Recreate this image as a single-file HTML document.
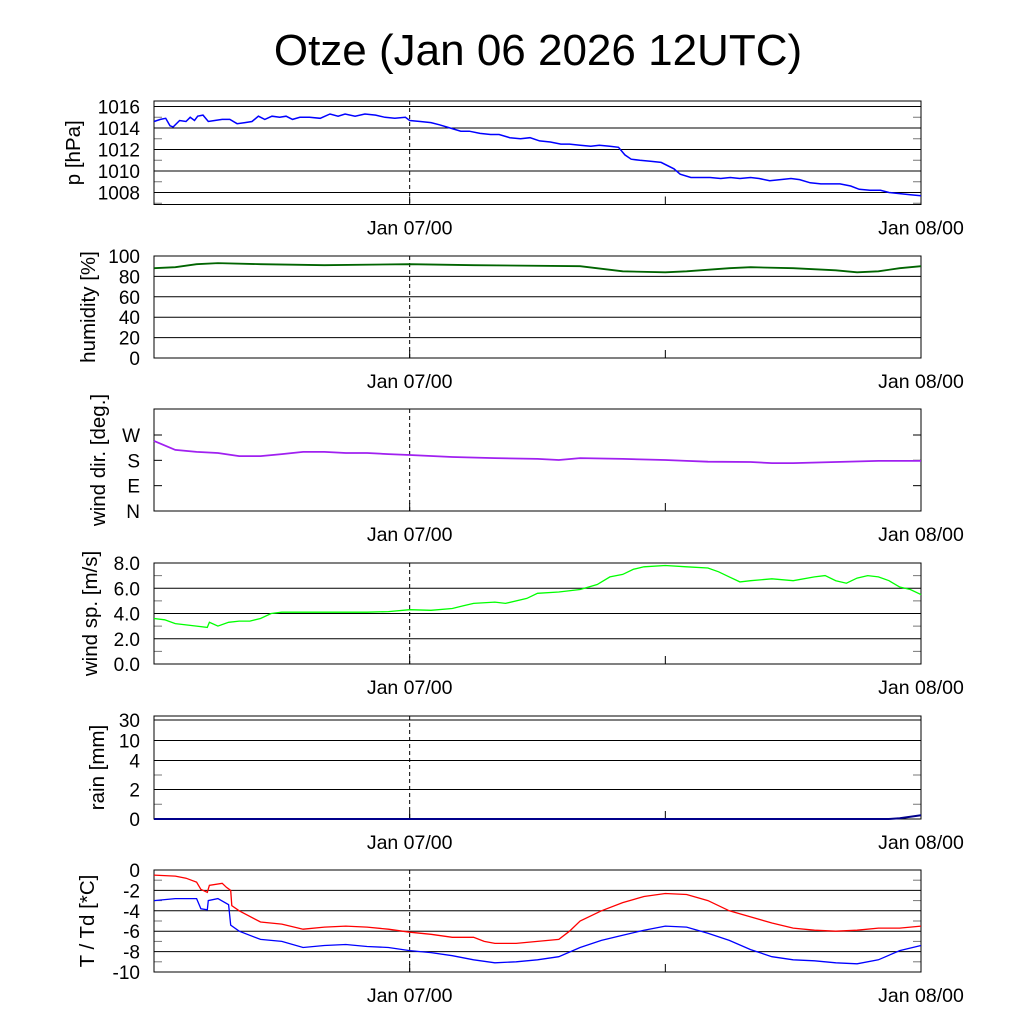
<!DOCTYPE html>
<html><head><meta charset="utf-8"><style>body{margin:0;background:#fff}svg{display:block}text{font-family:"Liberation Sans",sans-serif;fill:#000}</style></head>
<body>
<svg id="c" width="1024" height="1024" xmlns="http://www.w3.org/2000/svg">
<text x="538" y="65" font-size="44" text-anchor="middle">Otze (Jan 06 2026 12UTC)</text>
</svg>
<script>
const pH=[0,0.3,0.55,0.75,0.9,1.2,1.5,1.7,1.9,2.05,2.3,2.55,2.85,3.2,3.56,3.9,4.27,4.6,4.9,5.2,5.54,5.9,6.2,6.5,6.85,7.3,7.8,8.26,8.64,8.97,9.44,9.9,10.4,10.84,11.3,11.8,12,12.5,13,13.4,13.9,14.4,14.8,15.3,15.8,16.2,16.7,17.2,17.65,18.1,18.6,19.1,19.5,20,20.5,20.9,21.4,21.8,22.1,22.4,22.8,23.3,23.8,24.4,24.7,25.2,25.6,26.1,26.6,27.05,27.5,28,28.4,28.9,29.4,29.9,30.3,30.8,31.3,31.7,32.2,32.7,33.1,33.6,34.1,34.5,35,35.5,36];
const pV=[1014.6,1014.8,1014.9,1014.2,1014.1,1014.7,1014.6,1015.0,1014.7,1015.1,1015.2,1014.6,1014.7,1014.8,1014.8,1014.4,1014.5,1014.6,1015.1,1014.8,1015.1,1015.0,1015.1,1014.8,1015.0,1015.0,1014.9,1015.3,1015.1,1015.3,1015.1,1015.3,1015.2,1015.0,1014.9,1015.0,1014.7,1014.6,1014.5,1014.3,1014.0,1013.7,1013.7,1013.5,1013.4,1013.4,1013.1,1013.0,1013.1,1012.8,1012.7,1012.5,1012.5,1012.4,1012.3,1012.4,1012.3,1012.2,1011.5,1011.1,1011.0,1010.9,1010.8,1010.2,1009.7,1009.4,1009.4,1009.4,1009.3,1009.4,1009.3,1009.4,1009.3,1009.1,1009.2,1009.3,1009.2,1008.9,1008.8,1008.8,1008.8,1008.6,1008.3,1008.2,1008.2,1008.0,1007.9,1007.8,1007.7];
const hH=[0,1,2,3,5,8,12,15,20,22,24,25,27,28,30,32,33,34,35,36];
const hV=[88,89,92,93,92,91,92,91,90,85,84,85,88,89,88,86,84,85,88,90];
const dH=[0,1,2,3,4,5,6,7,8,9,10,11,12,14,16,18,19,20,22,24,25,26,28,29,30,32,34,35,36];
const dV=[249,217,210,206,195,195,202,210,210,206,206,202,199,192,188,185,181,188,185,181,178,175,174,170,170,174,178,178,178];
const sH=[0,0.5,1,1.5,2,2.5,2.6,3,3.5,4,4.5,5,5.5,6,8,10,11,12,13,14,14.5,15,16,16.5,17.5,18,19,20,20.8,21.4,22,22.5,23,24,25,26,26.5,27,27.5,28,29,30,31,31.5,32,32.5,33,33.5,34,34.5,35,35.5,36];
const sV=[3.6,3.5,3.2,3.1,3.0,2.9,3.3,3.0,3.3,3.4,3.4,3.6,4.0,4.1,4.1,4.1,4.15,4.3,4.25,4.4,4.6,4.8,4.9,4.8,5.2,5.6,5.7,5.9,6.3,6.9,7.1,7.5,7.7,7.8,7.7,7.6,7.3,6.9,6.5,6.6,6.75,6.6,6.9,7.0,6.6,6.4,6.8,7.0,6.9,6.6,6.1,5.9,5.5];
const rH=[0,34.5,35,36];
const rV=[0,0,0.05,0.25];
const tH=[0,1,1.5,2,2.2,2.5,2.6,3.2,3.4,3.6,3.65,4,5,6,7,8,9,10,11,12,13,14,15,15.5,16,17,18,19,19.5,20,21,22,23,24,25,26,27,28,29,30,31,32,33,34,35,36];
const tV=[-0.5,-0.6,-0.8,-1.2,-1.9,-2.2,-1.5,-1.3,-1.7,-2.0,-3.5,-4.0,-5.1,-5.3,-5.8,-5.6,-5.5,-5.6,-5.8,-6.1,-6.3,-6.6,-6.6,-7.0,-7.2,-7.2,-7.0,-6.8,-6.0,-5.0,-4.0,-3.2,-2.6,-2.3,-2.4,-3.0,-4.0,-4.6,-5.2,-5.7,-5.9,-6.0,-5.9,-5.7,-5.7,-5.5];
const tdH=[0,1,2,2.2,2.5,2.55,3,3.5,3.6,4,5,6,7,8,9,10,11,12,13,14,15,16,17,18,19,20,21,22,23,24,25,26,27,28,29,30,31,32,33,34,35,36];
const tdV=[-3.0,-2.8,-2.8,-3.8,-3.9,-3.0,-2.8,-3.4,-5.4,-6.0,-6.8,-7.0,-7.6,-7.4,-7.3,-7.5,-7.6,-7.9,-8.1,-8.4,-8.8,-9.1,-9.0,-8.8,-8.5,-7.6,-6.9,-6.4,-5.9,-5.5,-5.6,-6.2,-6.9,-7.8,-8.5,-8.8,-8.9,-9.1,-9.2,-8.8,-7.9,-7.4];
const rainTicks=[0,2,4,10,30];
const rainTickLabels=["0","2","4","10","30"];
const xLabels=["Jan 07/00","Jan 08/00"];
const xLabelHours=[12,36];

const NS="http://www.w3.org/2000/svg",svg=document.getElementById('c');
const X0=154,X1=921,HOURS=36;
const x=h=>X0+(X1-X0)*h/HOURS;
function el(t,a,p){const e=document.createElementNS(NS,t);for(const k in a)e.setAttribute(k,a[k]);(p||svg).appendChild(e);return e;}
function panel(name,top,bot,yfun,ticks,labels,ylabel,minor,lx){
  const g=el('g',{});
  
  
  ticks.forEach((v,i)=>{const y=yfun(v);
    const l=el('line',{x1:X0,x2:X1,y1:y,y2:y,stroke:'#000','stroke-width':1},g);
    
    
    const t=el('text',{x:X0-14,y:y+7,'font-size':19,'text-anchor':'end'},g);t.textContent=labels[i];
    
    });
  (minor||[]).forEach(v=>{const y=yfun(v);el('line',{x1:X0,x2:X0+8,y1:y,y2:y,stroke:'#777'},g);el('line',{x1:X1-8,x2:X1,y1:y,y2:y,stroke:'#777'},g);});
  el('line',{x1:x(12),x2:x(12),y1:top,y2:bot,stroke:'#000','stroke-dasharray':'4,3'},g);
  [12,24].forEach(h=>el('line',{x1:x(h),x2:x(h),y1:bot-8,y2:bot,stroke:'#000'},g));
  const r=el('rect',{x:X0,y:top,width:X1-X0,height:bot-top,fill:'none',stroke:'#000','stroke-width':1},g);
  
  
  xLabelHours.forEach((h,i)=>{const t=el('text',{x:x(h),y:bot+30,'font-size':19.5,'text-anchor':'middle'},g);t.textContent=xLabels[i];
    
    });
  const yl=el('text',{x:0,y:0,'font-size':20.5,'text-anchor':'middle',transform:`translate(${lx+7},${(top+bot)/2}) rotate(-90)`},g);yl.textContent=ylabel;
  
  
  return g;
}
function line(g,name,H,V,yfun,color,w){
  const p=el('polyline',{points:H.map((h,i)=>x(h).toFixed(1)+','+yfun(V[i]).toFixed(1)).join(' '),fill:'none',stroke:color,'stroke-width':w||1.3},g);
  
  
}
let yP=v=>128-(v-1014)*10.75;
let g=panel('pressure',101,204.5,yP,[1016,1014,1012,1010,1008],["1016","1014","1012","1010","1008"],'p [hPa]',[1007,1009,1011,1013,1015],73);
line(g,'pressure-line',pH,pV,yP,'#0000ff',1.5);
let yH=v=>358-v*1.02;
g=panel('humidity',256,358,yH,[100,80,60,40,20,0],["100","80","60","40","20","0"],'humidity [%]',null,88);
line(g,'humidity-line',hH,hV,yH,'#006400',1.8);
let yD=v=>511-v*0.2815;
g=panel('wind-dir',409,511,yD,[],[],'wind dir. [deg.]',null,98);
["N","E","S","W"].forEach((s,i)=>{const yy=yD(i*90);el('line',{x1:X0,x2:X0+8,y1:yy,y2:yy,stroke:'#000'},g);el('line',{x1:X1-8,x2:X1,y1:yy,y2:yy,stroke:'#000'},g);
  const t=el('text',{x:X0-14,y:yy+7,'font-size':19,'text-anchor':'end'},g);t.textContent=s;
  
  });
line(g,'wind-dir-line',dH,dV,yD,'#a020f0',1.8);
let yS=v=>664-v*12.625;
g=panel('wind-speed',563,664,yS,[8,6,4,2,0],["8.0","6.0","4.0","2.0","0.0"],'wind sp. [m/s]',[1,3,5,7],90);
line(g,'wind-speed-line',sH,sV,yS,'#00ff00',1.3);
const rainPos=[819,789.5,760.5,740.5,720];
let yR=v=>{for(let i=0;i<rainTicks.length-1;i++){if(v<=rainTicks[i+1])return rainPos[i]+(rainPos[i+1]-rainPos[i])*(v-rainTicks[i])/(rainTicks[i+1]-rainTicks[i]);}return 716;};
g=panel('rain',716,819,yR,rainTicks,rainTickLabels,'rain [mm]',[1,3],97);
line(g,'rain-line',rH,rV,yR,'#00008b',2);
let yT=v=>870-v*10.2;
g=panel('temperature',870,972,yT,[0,-2,-4,-6,-8,-10],["0","-2","-4","-6","-8","-10"],'T / Td [*C]',[-1,-3,-5,-7,-9],87);
line(g,'temperature-line',tH,tV,yT,'#ff0000',1.3);
line(g,'dewpoint-line',tdH,tdV,yT,'#0000ff',1.3);
</script>
</body></html>
